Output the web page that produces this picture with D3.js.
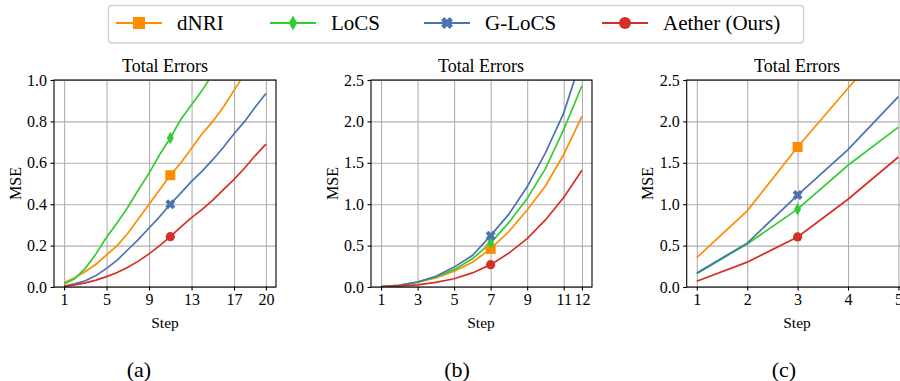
<!DOCTYPE html>
<html>
<head>
<meta charset="utf-8">
<script src="https://cdn.jsdelivr.net/npm/d3@7"></script>
<style>
  body { margin: 0; background: #fff; }
</style>
</head>
<body>
<div id="chart"></div>
<script>
// series names and colours
const methods = ["dNRI", "LoCS", "G-LoCS", "Aether (Ours)"];
const colors = ["#ff8c00", "#33cc33", "#4c72b0", "#d62f27"];

// panel (a)
const stepsA = [1, 2, 3, 4, 5, 6, 7, 8, 9, 10, 11, 12, 13, 14, 15, 16, 17, 18, 19, 20];
const dnriA = [0.02, 0.045, 0.075, 0.11, 0.155, 0.2, 0.26, 0.33, 0.4, 0.47, 0.54, 0.6, 0.67, 0.74, 0.8, 0.87, 0.95, 1.03];
const locsA = [0.015, 0.04, 0.09, 0.16, 0.24, 0.31, 0.385, 0.47, 0.55, 0.64, 0.72, 0.81, 0.88, 0.95, 1.03];
const glocsA = [0.005, 0.015, 0.03, 0.055, 0.09, 0.13, 0.18, 0.23, 0.285, 0.34, 0.4, 0.455, 0.51, 0.56, 0.615, 0.675, 0.74, 0.8, 0.87, 0.935];
const aetherA = [0.003, 0.01, 0.02, 0.033, 0.05, 0.07, 0.095, 0.125, 0.16, 0.2, 0.243, 0.29, 0.335, 0.375, 0.42, 0.47, 0.52, 0.575, 0.635, 0.69];
const xTicksA = [1, 5, 9, 13, 17, 20];
const yTicksA = [0, 0.2, 0.4, 0.6, 0.8, 1.0];

// panel (b)
const stepsB = [1, 2, 3, 4, 5, 6, 7, 8, 9, 10, 11, 12];
const dnriB = [0.005, 0.02, 0.055, 0.11, 0.19, 0.3, 0.46, 0.67, 0.93, 1.22, 1.6, 2.06];
const locsB = [0.005, 0.02, 0.06, 0.12, 0.21, 0.34, 0.53, 0.78, 1.07, 1.43, 1.9, 2.43];
const glocsB = [0.005, 0.02, 0.06, 0.13, 0.24, 0.38, 0.62, 0.88, 1.21, 1.62, 2.1, 2.78];
const aetherB = [0.002, 0.01, 0.025, 0.055, 0.1, 0.17, 0.27, 0.41, 0.585, 0.81, 1.08, 1.41];
const xTicksB = [1, 3, 5, 7, 9, 11, 12];
const yTicksB = [0, 0.5, 1.0, 1.5, 2.0, 2.5];

// panel (c)
const stepsC = [1, 2, 3, 4, 5];
const dnriC = [0.355, 0.92, 1.69, 2.4, 3.1];
const locsC = [0.16, 0.52, 0.94, 1.47, 1.93];
const glocsC = [0.17, 0.53, 1.11, 1.66, 2.3];
const aetherC = [0.07, 0.3, 0.605, 1.06, 1.57];
const xTicksC = [1, 2, 3, 4, 5];
const yTicksC = [0, 0.5, 1.0, 1.5, 2.0, 2.5];

const panelLabels = ["(a)", "(b)", "(c)"];

const width = 900;
const height = 381;
const serif = '"Liberation Serif", "Times New Roman", serif';

const svg = d3.select("#chart").append("svg")
  .attr("width", width)
  .attr("height", height)
  .attr("font-family", serif)
  .style("display", "block");

// marker shapes, drawn around 0,0
function markerPath(i, r) {
  if (i === 0) return `M${-r},${-r}H${r}V${r}H${-r}Z`;
  if (i === 1) return `M0,${-r * 1.25}L${r * 0.7},0L0,${r * 1.25}L${-r * 0.7},0Z`;
  if (i === 2) {
    const a = r * 0.55;
    const p = [[-r, -r + a], [-r + a, -r], [0, -a], [r - a, -r], [r, -r + a], [a, 0],
      [r, r - a], [r - a, r], [0, a], [-r + a, r], [-r, r - a], [-a, 0]];
    return "M" + p.map((d) => d.join(",")).join("L") + "Z";
  }
  return d3.symbol(d3.symbolCircle, Math.PI * r * r)();
}

function styleAxis(a) {
  a.attr("font-family", serif).attr("font-size", 16);
  a.select(".domain").remove();
  a.selectAll("line").attr("stroke", "#000").attr("stroke-width", 1.1);
  a.selectAll("text").attr("fill", "#000");
}

function drawPanel({ id, left, right, top, bottom, xDomain, yDomain, steps, series, xTicks, yTicks, markStep, titleX, stepX, mseX, labelX }) {
  const x = d3.scaleLinear().domain(xDomain).range([left, right]);
  const y = d3.scaleLinear().domain(yDomain).range([bottom, top]);
  const g = svg.append("g");

  g.append("clipPath").attr("id", "clip-" + id)
    .append("rect")
    .attr("x", left).attr("y", top)
    .attr("width", right - left).attr("height", bottom - top);

  // grid
  g.append("g")
    .attr("transform", `translate(0,${bottom})`)
    .call(d3.axisBottom(x).tickValues(xTicks).tickSize(-(bottom - top)).tickFormat(""))
    .call((a) => a.select(".domain").remove())
    .call((a) => a.selectAll("line").attr("stroke", "#b0b0b0").attr("stroke-width", 1.1));
  g.append("g")
    .attr("transform", `translate(${left},0)`)
    .call(d3.axisLeft(y).tickValues(yTicks).tickSize(-(right - left)).tickFormat(""))
    .call((a) => a.select(".domain").remove())
    .call((a) => a.selectAll("line").attr("stroke", "#b0b0b0").attr("stroke-width", 1.1));

  const line = d3.line()
    .x((d, i) => x(steps[i]))
    .y((d) => y(d));

  const lines = g.append("g").attr("clip-path", `url(#clip-${id})`);
  series.forEach((vals, i) => {
    lines.append("path")
      .attr("d", line(vals))
      .attr("fill", "none")
      .attr("stroke", colors[i])
      .attr("stroke-width", 1.7);
  });
  const k = steps.indexOf(markStep);
  series.forEach((vals, i) => {
    lines.append("path")
      .attr("d", markerPath(i, i === 3 ? 4.6 : 5))
      .attr("transform", `translate(${x(markStep)},${y(vals[k])})`)
      .attr("fill", colors[i]);
  });

  // spines
  g.append("rect")
    .attr("x", left).attr("y", top)
    .attr("width", right - left).attr("height", bottom - top)
    .attr("fill", "none").attr("stroke", "#000").attr("stroke-width", 1.1);

  // axes
  g.append("g")
    .attr("transform", `translate(0,${bottom})`)
    .call(d3.axisBottom(x).tickValues(xTicks).tickSize(3.5).tickPadding(3.5).tickFormat(d3.format("d")))
    .call(styleAxis);
  g.append("g")
    .attr("transform", `translate(${left},0)`)
    .call(d3.axisLeft(y).tickValues(yTicks).tickSize(3.5).tickPadding(3.5).tickFormat(d3.format(".1f")))
    .call(styleAxis);

  g.append("text")
    .attr("x", titleX)
    .attr("y", top - 8)
    .attr("text-anchor", "middle")
    .attr("font-size", 18)
    .text("Total Errors");
  g.append("text")
    .attr("x", stepX)
    .attr("y", 328)
    .attr("text-anchor", "middle")
    .attr("font-size", 15.5)
    .text("Step");
  g.append("text")
    .attr("transform", `translate(${mseX},${(top + bottom) / 2}) rotate(-90)`)
    .attr("dy", "0.35em")
    .attr("text-anchor", "middle")
    .attr("font-size", 16)
    .text("MSE");
  g.append("text")
    .attr("x", labelX)
    .attr("y", 377)
    .attr("text-anchor", "middle")
    .attr("font-size", 22)
    .text(panelLabels[["a", "b", "c"].indexOf(id)]);
}

drawPanel({
  id: "a", left: 54, right: 276, top: 80, bottom: 287,
  xDomain: [0.05, 20.95], yDomain: [0, 1],
  steps: stepsA, series: [dnriA, locsA, glocsA, aetherA],
  xTicks: xTicksA, yTicks: yTicksA, markStep: 11,
  titleX: 165, stepX: 165, mseX: 15, labelX: 139,
});
drawPanel({
  id: "b", left: 371, right: 592, top: 80, bottom: 287,
  xDomain: [0.45, 12.55], yDomain: [0, 2.5],
  steps: stepsB, series: [dnriB, locsB, glocsB, aetherB],
  xTicks: xTicksB, yTicks: yTicksB, markStep: 7,
  titleX: 481, stepX: 481, mseX: 332, labelX: 457,
});
drawPanel({
  id: "c", left: 686.7, right: 908.5, top: 80, bottom: 287,
  xDomain: [0.8, 5.2], yDomain: [0, 2.5],
  steps: stepsC, series: [dnriC, locsC, glocsC, aetherC],
  xTicks: xTicksC, yTicks: yTicksC, markStep: 3,
  titleX: 797, stepX: 797, mseX: 647, labelX: 784,
});

// legend
const legend = svg.append("g");
legend.append("rect")
  .attr("x", 108.5).attr("y", 5.5)
  .attr("width", 695).attr("height", 37.5)
  .attr("rx", 3)
  .attr("fill", "#fff")
  .attr("stroke", "#d0d0d0")
  .attr("stroke-width", 1.3);
const legendX = [116, 270, 424, 602];
methods.forEach((m, i) => {
  const item = legend.append("g").attr("transform", `translate(${legendX[i]},23)`);
  item.append("line")
    .attr("x1", 0).attr("x2", 46)
    .attr("stroke", colors[i]).attr("stroke-width", 1.9);
  item.append("path")
    .attr("d", markerPath(i, 6))
    .attr("transform", "translate(23,0)")
    .attr("fill", colors[i]);
  item.append("text")
    .attr("x", 61)
    .attr("dy", "0.35em")
    .attr("font-size", 21)
    .text(m);
});
</script>
</body>
</html>
